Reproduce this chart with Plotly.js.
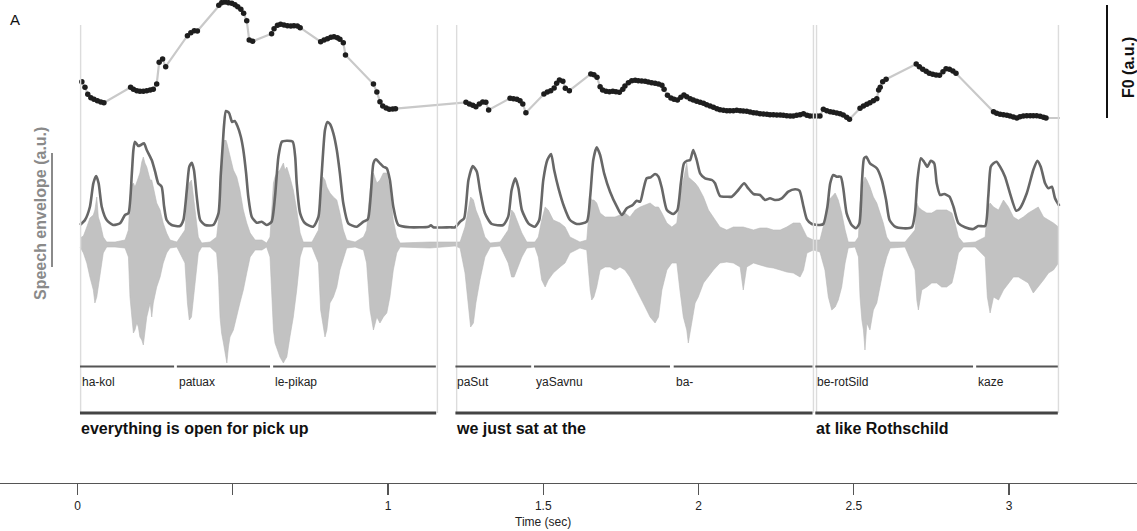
<!DOCTYPE html>
<html>
<head>
<meta charset="utf-8">
<script src="https://cdn.plot.ly/plotly-3.0.1.min.js"></script>
<style>
  html, body { margin: 0; padding: 0; background: #ffffff; }
  #chart { width: 1137px; height: 531px; }
</style>
</head>
<body>
<div id="chart"></div>
<script>
// ---- Pitch (F0) track: time in seconds, F0 in arbitrary units ----
const f0T = [0.014,0.024,0.033,0.043,0.053,0.064,0.075,0.085,
  0.171,0.180,0.191,0.201,0.212,0.223,0.234,0.244,0.255,0.263,0.274,0.284,
  0.354,0.365,0.376,0.386,
  0.455,0.464,0.475,0.486,0.497,0.507,0.516,0.526,0.535,0.545,0.553,0.564,
  0.625,0.633,0.644,0.654,0.665,0.676,0.687,0.697,0.708,0.717,
  0.783,0.794,0.805,0.816,0.826,0.837,0.845,0.856,0.863,
  0.953,0.964,0.974,0.983,0.994,1.004,1.015,1.024,
  1.251,1.262,1.273,1.283,1.294,1.305,1.315,1.324,
  1.393,1.404,1.415,1.425,1.434,1.444,
  1.502,1.513,1.524,1.535,1.543,1.552,1.563,1.571,1.584,
  1.653,1.663,1.673,1.683,1.691,1.702,1.713,1.724,1.734,1.745,1.756,1.763,1.774,1.785,1.796,
  1.806,1.817,1.828,1.838,1.849,1.860,1.871,1.882,1.889,1.900,1.911,1.921,1.932,1.943,1.953,
  1.962,1.973,1.983,1.994,2.005,2.016,2.026,2.037,2.048,2.059,2.069,2.080,2.091,2.101,2.112,
  2.123,2.134,2.144,2.155,2.166,2.177,2.187,2.198,2.209,2.220,2.230,2.241,2.252,2.263,2.273,
  2.284,2.295,2.305,2.316,2.327,2.338,2.349,2.359,2.370,2.381,2.391,
  2.402,2.413,2.424,2.434,2.445,2.456,2.466,2.477,2.486,
  2.520,2.531,2.542,2.552,2.563,2.574,2.580,2.585,2.593,2.604,
  2.701,2.711,2.722,2.733,2.743,2.754,2.765,2.776,2.787,2.797,2.808,2.819,2.829,
  2.950,2.960,2.971,2.982,2.993,3.003,3.014,3.025,3.035,3.046,3.057,3.068,3.078,3.089,3.100,3.111,3.119];
const f0V = [48.3,42.7,35.7,32.3,30.7,29.3,28,27.3,
  42.7,40.7,39.3,38.7,38.7,39.3,40,40.7,46,67.7,71,63.3,
  94.3,97.3,99.3,99,
  124.7,127.3,128,127.3,126.7,125.3,123.3,120.7,116.7,109.3,90,88.7,
  96.3,101.3,104.7,105.7,105,104.3,104,104.3,104,102.3,
  88.3,90,91.3,92.7,93.3,92.3,90.7,87.3,75,
  46,38,28.3,24,22,20.7,21,21.3,
  27.7,26,24.7,23.3,26,28,27.7,20,
  31.7,31.3,30.7,29.3,26,17.3,
  36,38,39.3,42,46.7,50,48.7,41.7,39.3,
  56,55.3,52.7,43.3,40,38.7,38.3,38.7,38.3,37.7,40.7,44,47.3,49.3,49.7,
  49.3,49,48.7,48,47.3,46.7,46,44.7,40.7,34.7,32,30.7,30,32.7,35,
  33.3,31.3,30,28.7,27.7,26.7,25.3,24,22.7,21.3,20.3,19.7,19.3,19.3,19.3,
  19.7,19.3,19,18.7,18,17.3,17,16.3,16,15.7,15.3,15.3,15,15,14.7,
  14.3,14,14,14.7,15.3,16.3,14.7,14,14,14,14,
  20.7,19.3,18.3,17.7,17,16.3,15,12.7,10.7,
  21.7,24,25.7,27.3,29.3,31.3,40,42.7,48.3,50.7,
  66,63.3,60.7,58.7,56.7,55.7,55,54.7,58.3,61.3,60.7,59,56.7,
  18.3,16.7,15.7,15.3,14.7,14,13,12,13.3,14,14.3,14.3,14.3,14.3,13.7,12.7,12];
// end of the connecting line after the last voiced frame
const f0TailT = [3.164];
const f0TailV = [12];

// ---- Speech envelope: time in seconds, amplitude in arbitrary units ----
const envT = [0.008,0.024,0.040,0.051,0.060,0.068,0.078,0.094,0.115,0.137,0.153,0.164,0.175,0.180,0.185,0.196,
  0.204,0.214,0.223,0.239,0.250,0.260,0.271,0.279,0.287,0.303,0.330,0.341,0.352,0.360,0.368,0.375,0.384,
  0.395,0.411,0.437,0.454,0.461,0.468,0.472,0.478,0.488,0.498,0.506,0.515,0.526,0.534,0.543,0.550,0.561,
  0.577,0.593,0.609,0.625,0.636,0.647,0.658,0.674,0.693,0.701,0.706,0.717,0.733,0.759,0.776,0.783,0.790,
  0.797,0.805,0.813,0.824,0.835,0.845,0.856,0.872,0.899,0.921,0.935,0.944,0.953,0.961,0.974,0.985,0.996,
  1.006,1.017,1.033,1.071,1.130,1.138,1.146,1.200,1.216,1.232,1.245,1.259,1.273,1.286,1.296,1.312,1.334,
  1.371,1.387,1.398,1.410,1.420,1.431,1.452,1.473,1.487,1.500,1.513,1.525,1.535,1.549,1.567,1.586,1.608,
  1.640,1.651,1.661,1.672,1.683,1.696,1.715,1.737,1.753,1.769,1.788,1.801,1.812,1.822,1.833,1.846,1.860,
  1.871,1.882,1.898,1.919,1.932,1.943,1.953,1.964,1.973,1.983,1.994,2.005,2.021,2.043,2.053,2.069,2.091,
  2.107,2.128,2.147,2.160,2.177,2.198,2.214,2.230,2.246,2.268,2.289,2.311,2.325,2.338,2.349,2.365,2.391,
  2.402,2.415,2.424,2.434,2.445,2.458,2.466,2.477,2.493,2.507,2.518,2.526,2.533,2.540,2.552,2.574,2.590,
  2.604,2.615,2.633,2.660,2.687,2.697,2.705,2.716,2.726,2.737,2.748,2.759,2.767,2.778,2.791,2.808,2.821,
  2.837,2.858,2.885,2.901,2.923,2.933,2.941,2.950,2.960,2.971,2.987,3.003,3.023,3.035,3.057,3.078,3.091,
  3.102,3.116,3.127,3.138,3.148,3.162];
const envV = [2,7,20.3,43.7,51,43.7,20.3,7,2,3.7,12,13.7,53.7,77,85.3,81,
  82,83.7,77,67,55.3,43.7,40.3,20.3,7,2,1,7,37,60.3,64.3,57,30.3,
  7,2,2,13.7,50.3,83.7,102,116,114,105,106,101,90.3,77,53.7,30.3,10.3,
  4.3,5.3,2,5.3,30.3,70.3,85.3,86.3,85.3,70.3,43.7,13.7,3.7,0.3,10.3,37,70.3,
  97,105,103,93.7,77,53.7,23.7,3.7,0.3,5.3,7.7,30.3,63.7,67.7,63.7,60.3,58.7,
  47,20.3,2,-0.3,0.3,1.7,-0.3,-0.3,-0.3,5.3,8.7,47,61,55.3,37,13.7,3,
  2,10.3,37,48.7,38.7,17,3.7,0.3,7,47,67,73,57,38.7,20.3,7,3,
  5.3,30.3,67,79.7,72,53.7,35.3,20.3,12,18.7,22,26.3,25.3,37,48.7,49.7,53,
  50.3,38.7,17,13,17,43.7,63.7,66.3,67,77,67,53.7,48.7,47,43.7,31,30.3,
  30.3,37,43.7,38.7,33,32,27,28.7,27,28.7,35.3,37.7,36.3,20.3,7.7,3,2,
  3,20.3,43.7,52,50.3,50.3,38.7,13.7,2,-1.3,3.7,43.7,68.7,70.3,63.7,58.7,47,
  27,7,0.3,-1.3,-0.3,13.7,47,68.7,65.3,60.3,66.3,63.7,43.7,32,33,30.3,20.3,
  3.7,-0.3,-2,1,1,30.3,60.3,63.7,65.3,60.3,50.3,33.7,16.3,18.7,33.7,57,66.3,
  60.3,43.7,38.7,40.3,28.7,21];

// ---- Waveform: time in seconds, positive and negative excursion (a.u.) ----
const waveT = [0.008,0.019,0.030,0.040,0.051,0.056,0.062,0.067,0.073,0.083,0.094,0.121,0.153,0.164,0.169,0.175,
  0.180,0.185,0.191,0.196,0.201,0.207,0.212,0.217,0.223,0.234,0.239,0.244,0.255,0.266,0.276,0.287,0.298,
  0.320,0.346,0.354,0.360,0.367,0.373,0.382,0.389,0.400,0.427,0.448,0.454,0.459,0.464,0.470,0.475,0.481,
  0.486,0.491,0.502,0.513,0.523,0.534,0.545,0.556,0.572,0.594,0.609,0.620,0.625,0.631,0.636,0.642,0.652,
  0.663,0.668,0.674,0.684,0.695,0.706,0.717,0.727,0.755,0.776,0.783,0.790,0.797,0.803,0.813,0.824,0.835,
  0.845,0.856,0.867,0.894,0.921,0.931,0.942,0.953,0.964,0.974,0.985,0.996,1.006,1.017,1.028,1.039,1.135,
  1.216,1.232,1.248,1.259,1.266,1.275,1.283,1.296,1.312,1.329,1.361,1.387,1.398,1.406,1.415,1.431,1.447,
  1.473,1.484,1.495,1.506,1.516,1.532,1.554,1.570,1.586,1.618,1.640,1.651,1.656,1.663,1.672,1.683,1.699,
  1.715,1.731,1.747,1.763,1.779,1.796,1.812,1.828,1.844,1.860,1.871,1.882,1.898,1.914,1.930,1.940,1.951,
  1.962,1.967,1.978,1.989,1.999,2.016,2.032,2.048,2.069,2.091,2.112,2.134,2.144,2.155,2.177,2.198,2.220,
  2.241,2.263,2.284,2.305,2.327,2.338,2.349,2.370,2.391,2.407,2.418,2.429,2.440,2.450,2.461,2.472,2.482,
  2.504,2.515,2.520,2.526,2.531,2.536,2.542,2.552,2.563,2.574,2.585,2.595,2.606,2.617,2.665,2.697,2.703,
  2.708,2.719,2.735,2.751,2.767,2.783,2.799,2.816,2.826,2.837,2.853,2.891,2.923,2.930,2.939,2.950,2.966,
  2.982,2.998,3.014,3.030,3.046,3.062,3.078,3.094,3.111,3.127,3.143,3.159];
const waveUp = [6,8,17,26,29,34,47,27,21,7,2,2,4,14,47,59,
  61,57,62,67,71,82,87,81,77,64,64,57,41,34,21,11,4,
  2,14,54,61,64,47,27,7,1,2,7,24,47,84,101,107,101,
  94,87,74,67,54,34,21,11,4,4,1,7,34,61,67,71,74,
  81,74,77,67,54,34,11,2,2,14,47,67,64,57,51,47,44,
  31,14,4,2,7,14,54,71,61,64,71,71,54,24,7,1,2,
  2,2,17,37,47,44,34,24,7,1,2,14,34,31,24,11,2,
  2,7,24,37,34,24,21,17,7,2,4,47,44,44,41,31,27,
  27,27,29,31,27,34,37,39,41,37,37,31,21,17,21,47,64,
  81,67,64,61,57,47,34,27,17,14,17,17,17,16,14,16,16,
  14,14,17,21,21,14,7,4,4,24,44,47,51,44,31,14,2,
  2,7,41,54,61,67,64,57,47,41,31,21,7,2,2,14,41,
  37,34,31,31,34,34,34,31,21,7,1,2,7,34,41,37,34,
  44,37,27,24,27,31,34,37,27,24,21,17];
const waveLo = [-3,-9,-19,-33,-46,-59,-53,-43,-29,-9,-3,-3,-4,-13,-53,-73,
  -89,-86,-79,-83,-93,-96,-101,-86,-73,-59,-73,-59,-43,-33,-19,-9,-4,
  -3,-19,-59,-76,-73,-59,-29,-9,-3,-3,-9,-33,-73,-89,-99,-106,-119,
  -103,-93,-86,-73,-59,-46,-29,-13,-6,-6,-3,-13,-46,-86,-99,-103,-113,
  -119,-116,-113,-93,-73,-46,-13,-3,-3,-19,-66,-79,-93,-86,-59,-53,-43,
  -26,-16,-4,-3,-6,-19,-66,-86,-73,-79,-73,-69,-53,-26,-9,-3,-4,
  -2,-4,-29,-59,-83,-79,-59,-36,-13,-3,-2,-19,-33,-33,-26,-13,-4,
  -3,-13,-36,-43,-36,-29,-23,-19,-9,-4,-6,-46,-56,-53,-43,-26,-23,
  -23,-26,-23,-26,-33,-43,-53,-63,-73,-79,-73,-46,-26,-19,-19,-46,-73,
  -86,-99,-79,-59,-53,-39,-33,-26,-19,-18,-19,-23,-46,-23,-19,-21,-23,
  -24,-26,-28,-29,-33,-26,-9,-6,-8,-26,-53,-66,-63,-56,-43,-19,-4,
  -3,-13,-53,-76,-86,-106,-79,-86,-66,-59,-43,-26,-13,-4,-3,-26,-56,
  -66,-46,-43,-39,-39,-43,-43,-39,-26,-9,-3,-3,-13,-53,-69,-53,-56,
  -46,-39,-33,-33,-36,-39,-49,-43,-36,-29,-26,-19];

// ---- Annotation tiers ----
const boundaryT = [0.010, 1.159, 1.221, 2.370, 2.380, 3.159];
const wordLabels = ['ha-kol', 'patuax', 'le-pikap', 'paSut', 'yaSavnu', 'ba-', 'be-rotSild', 'kaze'];
const wordStart = [0.008, 0.320, 0.630, 1.217, 1.470, 1.920, 2.376, 2.894];
const wordEnd   = [0.311, 0.620, 1.154, 1.461, 1.908, 2.367, 2.884, 3.157];
const phraseLabels = ['everything is open for pick up', 'we just sat at the', 'at like Rothschild'];
const phraseStart = [0.008, 1.217, 2.376];
const phraseEnd   = [1.155, 2.367, 3.157];

// ---- Time axis ticks ----
const tickVals = [0, 0.5, 1, 1.5, 2, 2.5, 3];
const tickText = ['0', '', '1', '1.5', '2', '2.5', '3'];

// ---- Page geometry helpers (figure is 1137 x 531 px, no margins) ----
const H = 531;
const py = (pix) => (H - pix) / H;   // pixel row -> paper fraction

const FONT = 'Liberation Sans, Arial, Helvetica, sans-serif';

const traces = [];

// waveform drawn as a filled band between its positive and negative excursions
traces.push({
  x: waveT.concat(waveT.slice().reverse()),
  y: waveUp.concat(waveLo.slice().reverse()),
  xaxis: 'x', yaxis: 'y2',
  mode: 'lines', fill: 'toself',
  fillcolor: '#c2c2c2',
  line: { color: '#b8b8b8', width: 0.6 },
  hoverinfo: 'skip', showlegend: false
});

// smoothed speech envelope
traces.push({
  x: envT, y: envV,
  xaxis: 'x', yaxis: 'y3',
  mode: 'lines',
  line: { color: '#676767', width: 2.6, shape: 'spline', smoothing: 0.6 },
  hoverinfo: 'skip', showlegend: false
});

// F0 contour: light connecting line, then the voiced frames as dots
traces.push({
  x: f0T.concat(f0TailT), y: f0V.concat(f0TailV),
  xaxis: 'x', yaxis: 'y4',
  mode: 'lines',
  line: { color: '#c9c9c9', width: 2.2 },
  hoverinfo: 'skip', showlegend: false
});
traces.push({
  x: f0T, y: f0V,
  xaxis: 'x', yaxis: 'y4',
  mode: 'markers',
  marker: { color: '#1e1e1e', size: 5.5 },
  hoverinfo: 'skip', showlegend: false
});

const shapes = [];
// phrase boundary markers
boundaryT.forEach(t => shapes.push({
  type: 'line', xref: 'x', yref: 'paper',
  x0: t, x1: t, y0: py(413), y1: py(25),
  line: { color: '#dcdcdc', width: 1.4 }
}));
// word tier
wordStart.forEach((t, i) => shapes.push({
  type: 'line', xref: 'x', yref: 'paper',
  x0: t, x1: wordEnd[i], y0: py(366.5), y1: py(366.5),
  line: { color: '#555555', width: 2 }
}));
// phrase tier
phraseStart.forEach((t, i) => shapes.push({
  type: 'line', xref: 'x', yref: 'paper',
  x0: t, x1: phraseEnd[i], y0: py(413), y1: py(413),
  line: { color: '#444444', width: 3 }
}));
// scale bars for the two measures
shapes.push({ type: 'line', xref: 'paper', yref: 'paper',
  x0: 52 / 1137, x1: 52 / 1137, y0: py(267), y1: py(153),
  line: { color: '#8a8a8a', width: 2 } });
shapes.push({ type: 'line', xref: 'paper', yref: 'paper',
  x0: 1107 / 1137, x1: 1107 / 1137, y0: py(118), y1: py(5),
  line: { color: '#111111', width: 2 } });

const annotations = [];
wordLabels.forEach((w, i) => annotations.push({
  text: w, xref: 'x', yref: 'paper', x: wordStart[i], y: py(382),
  xanchor: 'left', yanchor: 'middle', showarrow: false,
  font: { family: FONT, size: 12, color: '#222222' }
}));
phraseLabels.forEach((p, i) => annotations.push({
  text: '<b>' + p + '</b>', xref: 'x', yref: 'paper', x: phraseStart[i] - 0.004, y: py(428.5),
  xanchor: 'left', yanchor: 'middle', showarrow: false,
  font: { family: FONT, size: 16, color: '#111111' }
}));
annotations.push({
  text: 'A', xref: 'paper', yref: 'paper', x: 8 / 1137, y: py(19),
  xanchor: 'left', yanchor: 'middle', showarrow: false,
  font: { family: FONT, size: 15, color: '#111111' }
});
annotations.push({
  text: '<b>Speech envelope (a.u.)</b>', xref: 'paper', yref: 'paper', x: 40 / 1137, y: py(214),
  xanchor: 'center', yanchor: 'middle', showarrow: false, textangle: -90,
  font: { family: FONT, size: 16, color: '#8a8a8a' }
});
annotations.push({
  text: '<b>F0 (a.u.)</b>', xref: 'paper', yref: 'paper', x: 1128 / 1137, y: py(68),
  xanchor: 'center', yanchor: 'middle', showarrow: false, textangle: -90,
  font: { family: FONT, size: 16, color: '#111111' }
});
annotations.push({
  text: 'Time (sec)', xref: 'x', yref: 'paper', x: 1.5, y: py(522),
  xanchor: 'center', yanchor: 'middle', showarrow: false,
  font: { family: FONT, size: 12, color: '#222222' }
});

const hidden = { visible: false, fixedrange: true };

const layout = {
  width: 1137, height: 531,
  margin: { l: 0, r: 0, t: 0, b: 0 },
  paper_bgcolor: '#ffffff', plot_bgcolor: 'rgba(0,0,0,0)',
  showlegend: false,
  font: { family: FONT, color: '#222222' },
  xaxis: {
    range: [-0.2496, 3.412], anchor: 'free', position: py(483),
    showgrid: false, zeroline: false,
    showline: true, linecolor: '#555555', linewidth: 1.2,
    ticks: 'outside', ticklen: 11, tickwidth: 1.2, tickcolor: '#555555',
    tickvals: tickVals, ticktext: tickText,
    tickfont: { family: FONT, size: 12, color: '#222222' },
    fixedrange: true
  },
  yaxis2: Object.assign({ domain: [py(370), py(140)], range: [-126, 104] }, hidden),
  yaxis3: Object.assign({ domain: [py(240), py(100)], range: [-13, 127] }, hidden),
  yaxis4: Object.assign({ domain: [py(130), 1], range: [0, 130] }, hidden),
  shapes: shapes,
  annotations: annotations
};

Plotly.newPlot('chart', traces, layout, { staticPlot: true, displayModeBar: false });
</script>
</body>
</html>
